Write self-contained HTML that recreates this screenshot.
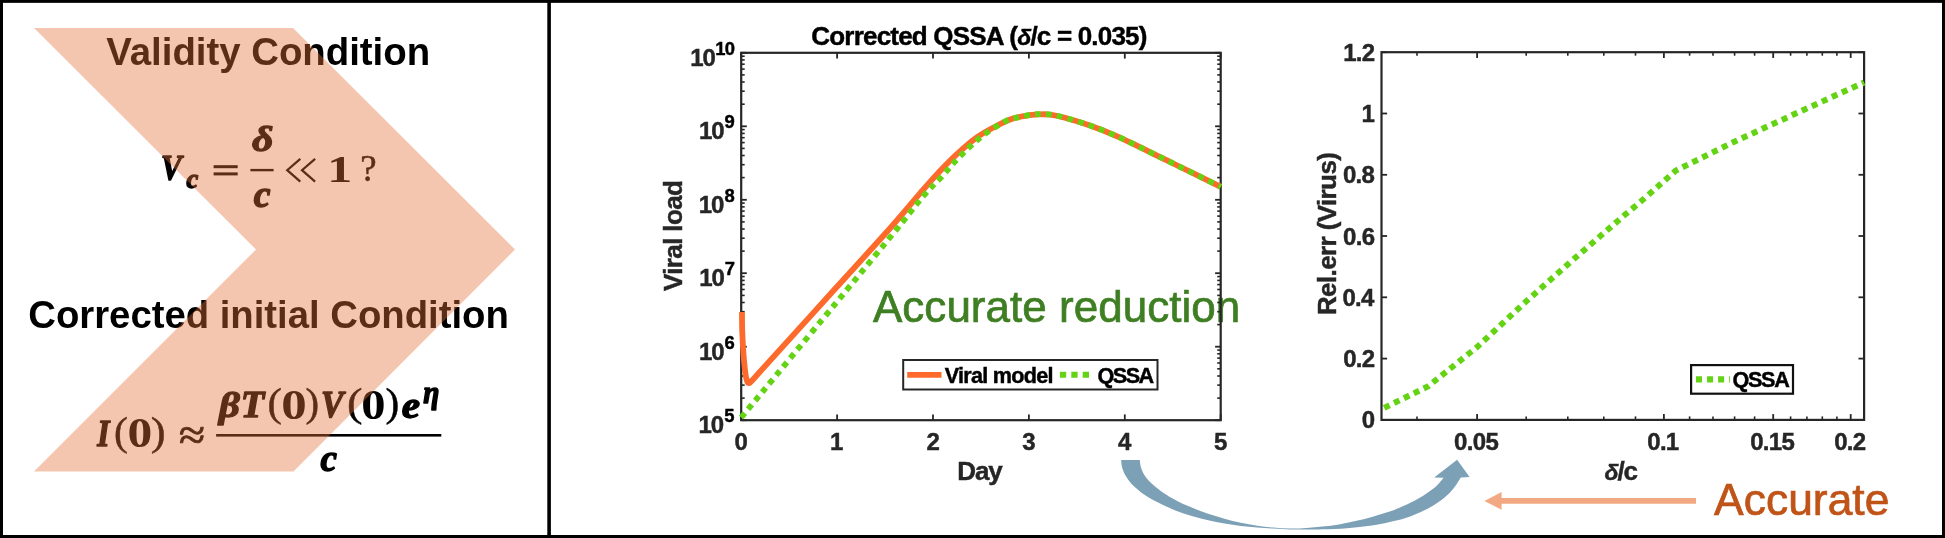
<!DOCTYPE html>
<html><head><meta charset="utf-8"><title>fig</title>
<style>
html,body{margin:0;padding:0;background:#fff;}
body{width:1945px;height:538px;overflow:hidden;}
svg{display:block;will-change:transform;}
text{font-family:"Liberation Sans",sans-serif;}
.b{font-weight:bold;}
.bi{font-weight:bold;font-style:italic;}
.m{font-family:"Liberation Serif",serif;font-weight:bold;font-style:italic;}
.mu{font-family:"Liberation Serif",serif;font-weight:bold;}
.mr{font-family:"Liberation Serif",serif;font-weight:normal;}
</style></head><body>
<svg width="1945" height="538" viewBox="0 0 1945 538">
<rect x="0" y="0" width="1945" height="538" fill="#fff"/>
<g id="leftpanel">
<text id="t1" class="b" x="106.32" y="64.60" font-size="38.4" letter-spacing="-0.024" fill="#000">Validity Condition</text>
<text id="t2" class="b" x="28.27" y="328.20" font-size="38.3" letter-spacing="-0.009" fill="#000">Corrected initial Condition</text>
<g id="f1">
<text class="m" transform="translate(160.94,180.36) scale(0.3096,0.3567)" font-size="100" fill="#000" stroke="#000" stroke-width="4.20" stroke-linejoin="round">V</text>
<text class="m" transform="translate(186.60,188.43) scale(0.2651,0.2729)" font-size="100" fill="#000" stroke="#000" stroke-width="5.20" stroke-linejoin="round">c</text>
<rect x="213.6" y="165.2" width="24.1" height="3"/><rect x="213.6" y="172.4" width="24.1" height="3"/>
<text class="m" transform="translate(251.97,151.14) scale(0.4172,0.3606)" font-size="100" fill="#000" stroke="#000" stroke-width="3.60" stroke-linejoin="round">δ</text>
<rect x="250.4" y="168.9" width="23.2" height="2.4"/>
<text class="m" transform="translate(253.83,206.81) scale(0.3783,0.3854)" font-size="100" fill="#000" stroke="#000" stroke-width="3.67" stroke-linejoin="round">c</text>
<path d="M300.3,158.8 L287.2,170.2 L300.3,181.6 M315.1,158.8 L302,170.2 L315.1,181.6" fill="none" stroke="#000" stroke-width="2.2"/>
<text class="mu" transform="translate(327.30,181.60) scale(0.5000,0.3758)" font-size="100" fill="#000">1</text>
<text class="mr" transform="translate(360.30,181.09) scale(0.3690,0.3719)" font-size="100" fill="#000" stroke="#000" stroke-width="1.35" stroke-linejoin="round">?</text>
</g>
<g id="f2">
<text class="m" transform="translate(97.22,446.20) scale(0.3153,0.3893)" font-size="100" fill="#000" stroke="#000" stroke-width="3.97" stroke-linejoin="round">I</text>
<text class="mr" transform="translate(114.08,444.72) scale(0.4157,0.3923)" font-size="100" fill="#000" stroke="#000" stroke-width="1.24" stroke-linejoin="round">(</text>
<text class="mu" transform="translate(127.62,447.47) scale(0.4952,0.4281)" font-size="100" fill="#000">0</text>
<text class="mr" transform="translate(150.81,444.82) scale(0.4462,0.3967)" font-size="100" fill="#000" stroke="#000" stroke-width="1.19" stroke-linejoin="round">)</text>
<text class="mr" transform="translate(178.88,448.85) scale(0.4750,0.4243)" font-size="100" fill="#000" stroke="#000" stroke-width="2.22" stroke-linejoin="round">≈</text>
<text class="m" transform="translate(218.92,417.11) scale(0.4075,0.3576)" font-size="100" fill="#000" stroke="#000" stroke-width="3.66" stroke-linejoin="round">β</text>
<text class="m" transform="translate(240.82,417.40) scale(0.3842,0.3756)" font-size="100" fill="#000" stroke="#000" stroke-width="3.69" stroke-linejoin="round">T</text>
<text class="mr" transform="translate(267.61,415.92) scale(0.4314,0.3923)" font-size="100" fill="#000" stroke="#000" stroke-width="1.21" stroke-linejoin="round">(</text>
<text class="mu" transform="translate(281.16,418.57) scale(0.5095,0.4267)" font-size="100" fill="#000">0</text>
<text class="mr" transform="translate(305.53,416.02) scale(0.4077,0.3967)" font-size="100" fill="#000" stroke="#000" stroke-width="1.24" stroke-linejoin="round">)</text>
<text class="m" transform="translate(320.98,417.44) scale(0.3363,0.3761)" font-size="100" fill="#000" stroke="#000" stroke-width="3.93" stroke-linejoin="round">V</text>
<text class="mr" transform="translate(347.05,415.92) scale(0.4667,0.3923)" font-size="100" fill="#000" stroke="#000" stroke-width="1.16" stroke-linejoin="round">(</text>
<text class="mu" transform="translate(361.26,418.57) scale(0.4857,0.4267)" font-size="100" fill="#000">0</text>
<text class="mr" transform="translate(385.42,416.02) scale(0.4115,0.3967)" font-size="100" fill="#000" stroke="#000" stroke-width="1.24" stroke-linejoin="round">)</text>
<text class="m" transform="translate(401.87,417.63) scale(0.4127,0.3708)" font-size="100" fill="#000" stroke="#000" stroke-width="3.57" stroke-linejoin="round">e</text>
<text class="m" transform="translate(423.31,403.44) scale(0.2928,0.3051)" font-size="100" fill="#000" stroke="#000" stroke-width="4.68" stroke-linejoin="round">η</text>
<rect x="216.1" y="434" width="225.2" height="2.6"/>
<text class="m" transform="translate(320.54,470.92) scale(0.3711,0.3771)" font-size="100" fill="#000" stroke="#000" stroke-width="3.74" stroke-linejoin="round">c</text>
</g>
<polygon id="chev" points="34,28 293,28 515,249.5 293.5,471.6 34,471.6 256,249.5" fill="#e67038" fill-opacity="0.4"/>
</g>
<text id="accred" stroke="#3f7f23" stroke-width="0.7" x="872.98" y="321.50" font-size="44" letter-spacing="0.020" fill="#3f7f23">Accurate reduction</text>
<g id="plot1">
<line x1="741.2" y1="420.2" x2="741.2" y2="414.4" stroke="#262626" stroke-width="1.8"/>
<line x1="741.2" y1="52.8" x2="741.2" y2="58.6" stroke="#262626" stroke-width="1.8"/>
<text stroke="#262626" stroke-width="0.45" class="b" x="734.54" y="450.00" font-size="24" letter-spacing="0.000" fill="#262626">0</text>
<line x1="837.1" y1="420.2" x2="837.1" y2="414.4" stroke="#262626" stroke-width="1.8"/>
<line x1="837.1" y1="52.8" x2="837.1" y2="58.6" stroke="#262626" stroke-width="1.8"/>
<text stroke="#262626" stroke-width="0.45" class="b" x="829.96" y="450.00" font-size="24" letter-spacing="0.000" fill="#262626">1</text>
<line x1="933.0" y1="420.2" x2="933.0" y2="414.4" stroke="#262626" stroke-width="1.8"/>
<line x1="933.0" y1="52.8" x2="933.0" y2="58.6" stroke="#262626" stroke-width="1.8"/>
<text stroke="#262626" stroke-width="0.45" class="b" x="926.40" y="450.00" font-size="24" letter-spacing="0.000" fill="#262626">2</text>
<line x1="1028.9" y1="420.2" x2="1028.9" y2="414.4" stroke="#262626" stroke-width="1.8"/>
<line x1="1028.9" y1="52.8" x2="1028.9" y2="58.6" stroke="#262626" stroke-width="1.8"/>
<text stroke="#262626" stroke-width="0.45" class="b" x="1022.36" y="450.00" font-size="24" letter-spacing="0.000" fill="#262626">3</text>
<line x1="1124.8" y1="420.2" x2="1124.8" y2="414.4" stroke="#262626" stroke-width="1.8"/>
<line x1="1124.8" y1="52.8" x2="1124.8" y2="58.6" stroke="#262626" stroke-width="1.8"/>
<text stroke="#262626" stroke-width="0.45" class="b" x="1118.02" y="450.00" font-size="24" letter-spacing="0.000" fill="#262626">4</text>
<line x1="1220.7" y1="420.2" x2="1220.7" y2="414.4" stroke="#262626" stroke-width="1.8"/>
<line x1="1220.7" y1="52.8" x2="1220.7" y2="58.6" stroke="#262626" stroke-width="1.8"/>
<text stroke="#262626" stroke-width="0.45" class="b" x="1213.98" y="450.00" font-size="24" letter-spacing="0.000" fill="#262626">5</text>
<line x1="741.2" y1="420.2" x2="746.8" y2="420.2" stroke="#262626" stroke-width="1.8"/>
<line x1="1220.7" y1="420.2" x2="1215.1" y2="420.2" stroke="#262626" stroke-width="1.8"/>
<line x1="741.2" y1="398.1" x2="744.7" y2="398.1" stroke="#262626" stroke-width="1.6"/>
<line x1="1220.7" y1="398.1" x2="1217.2" y2="398.1" stroke="#262626" stroke-width="1.6"/>
<line x1="741.2" y1="385.1" x2="744.7" y2="385.1" stroke="#262626" stroke-width="1.6"/>
<line x1="1220.7" y1="385.1" x2="1217.2" y2="385.1" stroke="#262626" stroke-width="1.6"/>
<line x1="741.2" y1="376.0" x2="744.7" y2="376.0" stroke="#262626" stroke-width="1.6"/>
<line x1="1220.7" y1="376.0" x2="1217.2" y2="376.0" stroke="#262626" stroke-width="1.6"/>
<line x1="741.2" y1="368.8" x2="744.7" y2="368.8" stroke="#262626" stroke-width="1.6"/>
<line x1="1220.7" y1="368.8" x2="1217.2" y2="368.8" stroke="#262626" stroke-width="1.6"/>
<line x1="741.2" y1="363.0" x2="744.7" y2="363.0" stroke="#262626" stroke-width="1.6"/>
<line x1="1220.7" y1="363.0" x2="1217.2" y2="363.0" stroke="#262626" stroke-width="1.6"/>
<line x1="741.2" y1="358.1" x2="744.7" y2="358.1" stroke="#262626" stroke-width="1.6"/>
<line x1="1220.7" y1="358.1" x2="1217.2" y2="358.1" stroke="#262626" stroke-width="1.6"/>
<line x1="741.2" y1="353.8" x2="744.7" y2="353.8" stroke="#262626" stroke-width="1.6"/>
<line x1="1220.7" y1="353.8" x2="1217.2" y2="353.8" stroke="#262626" stroke-width="1.6"/>
<line x1="741.2" y1="350.1" x2="744.7" y2="350.1" stroke="#262626" stroke-width="1.6"/>
<line x1="1220.7" y1="350.1" x2="1217.2" y2="350.1" stroke="#262626" stroke-width="1.6"/>
<text stroke="#000" stroke-width="0.45" class="b" x="724.35" y="422.30" font-size="18.4" letter-spacing="0.000" fill="#000">5</text>
<text stroke="#262626" stroke-width="0.45" class="b" x="698.61" y="433.00" font-size="24" letter-spacing="-1.085" fill="#262626">10</text>
<line x1="741.2" y1="346.7" x2="746.8" y2="346.7" stroke="#262626" stroke-width="1.8"/>
<line x1="1220.7" y1="346.7" x2="1215.1" y2="346.7" stroke="#262626" stroke-width="1.8"/>
<line x1="741.2" y1="324.6" x2="744.7" y2="324.6" stroke="#262626" stroke-width="1.6"/>
<line x1="1220.7" y1="324.6" x2="1217.2" y2="324.6" stroke="#262626" stroke-width="1.6"/>
<line x1="741.2" y1="311.7" x2="744.7" y2="311.7" stroke="#262626" stroke-width="1.6"/>
<line x1="1220.7" y1="311.7" x2="1217.2" y2="311.7" stroke="#262626" stroke-width="1.6"/>
<line x1="741.2" y1="302.5" x2="744.7" y2="302.5" stroke="#262626" stroke-width="1.6"/>
<line x1="1220.7" y1="302.5" x2="1217.2" y2="302.5" stroke="#262626" stroke-width="1.6"/>
<line x1="741.2" y1="295.4" x2="744.7" y2="295.4" stroke="#262626" stroke-width="1.6"/>
<line x1="1220.7" y1="295.4" x2="1217.2" y2="295.4" stroke="#262626" stroke-width="1.6"/>
<line x1="741.2" y1="289.5" x2="744.7" y2="289.5" stroke="#262626" stroke-width="1.6"/>
<line x1="1220.7" y1="289.5" x2="1217.2" y2="289.5" stroke="#262626" stroke-width="1.6"/>
<line x1="741.2" y1="284.6" x2="744.7" y2="284.6" stroke="#262626" stroke-width="1.6"/>
<line x1="1220.7" y1="284.6" x2="1217.2" y2="284.6" stroke="#262626" stroke-width="1.6"/>
<line x1="741.2" y1="280.4" x2="744.7" y2="280.4" stroke="#262626" stroke-width="1.6"/>
<line x1="1220.7" y1="280.4" x2="1217.2" y2="280.4" stroke="#262626" stroke-width="1.6"/>
<line x1="741.2" y1="276.6" x2="744.7" y2="276.6" stroke="#262626" stroke-width="1.6"/>
<line x1="1220.7" y1="276.6" x2="1217.2" y2="276.6" stroke="#262626" stroke-width="1.6"/>
<text stroke="#000" stroke-width="0.45" class="b" x="724.53" y="348.82" font-size="18.4" letter-spacing="0.000" fill="#000">6</text>
<text stroke="#262626" stroke-width="0.45" class="b" x="698.88" y="359.52" font-size="24" letter-spacing="-1.085" fill="#262626">10</text>
<line x1="741.2" y1="273.2" x2="746.8" y2="273.2" stroke="#262626" stroke-width="1.8"/>
<line x1="1220.7" y1="273.2" x2="1215.1" y2="273.2" stroke="#262626" stroke-width="1.8"/>
<line x1="741.2" y1="251.1" x2="744.7" y2="251.1" stroke="#262626" stroke-width="1.6"/>
<line x1="1220.7" y1="251.1" x2="1217.2" y2="251.1" stroke="#262626" stroke-width="1.6"/>
<line x1="741.2" y1="238.2" x2="744.7" y2="238.2" stroke="#262626" stroke-width="1.6"/>
<line x1="1220.7" y1="238.2" x2="1217.2" y2="238.2" stroke="#262626" stroke-width="1.6"/>
<line x1="741.2" y1="229.0" x2="744.7" y2="229.0" stroke="#262626" stroke-width="1.6"/>
<line x1="1220.7" y1="229.0" x2="1217.2" y2="229.0" stroke="#262626" stroke-width="1.6"/>
<line x1="741.2" y1="221.9" x2="744.7" y2="221.9" stroke="#262626" stroke-width="1.6"/>
<line x1="1220.7" y1="221.9" x2="1217.2" y2="221.9" stroke="#262626" stroke-width="1.6"/>
<line x1="741.2" y1="216.1" x2="744.7" y2="216.1" stroke="#262626" stroke-width="1.6"/>
<line x1="1220.7" y1="216.1" x2="1217.2" y2="216.1" stroke="#262626" stroke-width="1.6"/>
<line x1="741.2" y1="211.1" x2="744.7" y2="211.1" stroke="#262626" stroke-width="1.6"/>
<line x1="1220.7" y1="211.1" x2="1217.2" y2="211.1" stroke="#262626" stroke-width="1.6"/>
<line x1="741.2" y1="206.9" x2="744.7" y2="206.9" stroke="#262626" stroke-width="1.6"/>
<line x1="1220.7" y1="206.9" x2="1217.2" y2="206.9" stroke="#262626" stroke-width="1.6"/>
<line x1="741.2" y1="203.1" x2="744.7" y2="203.1" stroke="#262626" stroke-width="1.6"/>
<line x1="1220.7" y1="203.1" x2="1217.2" y2="203.1" stroke="#262626" stroke-width="1.6"/>
<text stroke="#000" stroke-width="0.45" class="b" x="724.72" y="275.34" font-size="18.4" letter-spacing="0.000" fill="#000">7</text>
<text stroke="#262626" stroke-width="0.45" class="b" x="699.25" y="286.04" font-size="24" letter-spacing="-1.085" fill="#262626">10</text>
<line x1="741.2" y1="199.8" x2="746.8" y2="199.8" stroke="#262626" stroke-width="1.8"/>
<line x1="1220.7" y1="199.8" x2="1215.1" y2="199.8" stroke="#262626" stroke-width="1.8"/>
<line x1="741.2" y1="177.6" x2="744.7" y2="177.6" stroke="#262626" stroke-width="1.6"/>
<line x1="1220.7" y1="177.6" x2="1217.2" y2="177.6" stroke="#262626" stroke-width="1.6"/>
<line x1="741.2" y1="164.7" x2="744.7" y2="164.7" stroke="#262626" stroke-width="1.6"/>
<line x1="1220.7" y1="164.7" x2="1217.2" y2="164.7" stroke="#262626" stroke-width="1.6"/>
<line x1="741.2" y1="155.5" x2="744.7" y2="155.5" stroke="#262626" stroke-width="1.6"/>
<line x1="1220.7" y1="155.5" x2="1217.2" y2="155.5" stroke="#262626" stroke-width="1.6"/>
<line x1="741.2" y1="148.4" x2="744.7" y2="148.4" stroke="#262626" stroke-width="1.6"/>
<line x1="1220.7" y1="148.4" x2="1217.2" y2="148.4" stroke="#262626" stroke-width="1.6"/>
<line x1="741.2" y1="142.6" x2="744.7" y2="142.6" stroke="#262626" stroke-width="1.6"/>
<line x1="1220.7" y1="142.6" x2="1217.2" y2="142.6" stroke="#262626" stroke-width="1.6"/>
<line x1="741.2" y1="137.7" x2="744.7" y2="137.7" stroke="#262626" stroke-width="1.6"/>
<line x1="1220.7" y1="137.7" x2="1217.2" y2="137.7" stroke="#262626" stroke-width="1.6"/>
<line x1="741.2" y1="133.4" x2="744.7" y2="133.4" stroke="#262626" stroke-width="1.6"/>
<line x1="1220.7" y1="133.4" x2="1217.2" y2="133.4" stroke="#262626" stroke-width="1.6"/>
<line x1="741.2" y1="129.6" x2="744.7" y2="129.6" stroke="#262626" stroke-width="1.6"/>
<line x1="1220.7" y1="129.6" x2="1217.2" y2="129.6" stroke="#262626" stroke-width="1.6"/>
<text stroke="#000" stroke-width="0.45" class="b" x="724.44" y="201.86" font-size="18.4" letter-spacing="0.000" fill="#000">8</text>
<text stroke="#262626" stroke-width="0.45" class="b" x="698.70" y="212.56" font-size="24" letter-spacing="-1.085" fill="#262626">10</text>
<line x1="741.2" y1="126.3" x2="746.8" y2="126.3" stroke="#262626" stroke-width="1.8"/>
<line x1="1220.7" y1="126.3" x2="1215.1" y2="126.3" stroke="#262626" stroke-width="1.8"/>
<line x1="741.2" y1="104.2" x2="744.7" y2="104.2" stroke="#262626" stroke-width="1.6"/>
<line x1="1220.7" y1="104.2" x2="1217.2" y2="104.2" stroke="#262626" stroke-width="1.6"/>
<line x1="741.2" y1="91.2" x2="744.7" y2="91.2" stroke="#262626" stroke-width="1.6"/>
<line x1="1220.7" y1="91.2" x2="1217.2" y2="91.2" stroke="#262626" stroke-width="1.6"/>
<line x1="741.2" y1="82.0" x2="744.7" y2="82.0" stroke="#262626" stroke-width="1.6"/>
<line x1="1220.7" y1="82.0" x2="1217.2" y2="82.0" stroke="#262626" stroke-width="1.6"/>
<line x1="741.2" y1="74.9" x2="744.7" y2="74.9" stroke="#262626" stroke-width="1.6"/>
<line x1="1220.7" y1="74.9" x2="1217.2" y2="74.9" stroke="#262626" stroke-width="1.6"/>
<line x1="741.2" y1="69.1" x2="744.7" y2="69.1" stroke="#262626" stroke-width="1.6"/>
<line x1="1220.7" y1="69.1" x2="1217.2" y2="69.1" stroke="#262626" stroke-width="1.6"/>
<line x1="741.2" y1="64.2" x2="744.7" y2="64.2" stroke="#262626" stroke-width="1.6"/>
<line x1="1220.7" y1="64.2" x2="1217.2" y2="64.2" stroke="#262626" stroke-width="1.6"/>
<line x1="741.2" y1="59.9" x2="744.7" y2="59.9" stroke="#262626" stroke-width="1.6"/>
<line x1="1220.7" y1="59.9" x2="1217.2" y2="59.9" stroke="#262626" stroke-width="1.6"/>
<line x1="741.2" y1="56.2" x2="744.7" y2="56.2" stroke="#262626" stroke-width="1.6"/>
<line x1="1220.7" y1="56.2" x2="1217.2" y2="56.2" stroke="#262626" stroke-width="1.6"/>
<text stroke="#000" stroke-width="0.45" class="b" x="724.53" y="128.38" font-size="18.4" letter-spacing="0.000" fill="#000">9</text>
<text stroke="#262626" stroke-width="0.45" class="b" x="698.88" y="139.08" font-size="24" letter-spacing="-1.085" fill="#262626">10</text>
<line x1="741.2" y1="52.8" x2="746.8" y2="52.8" stroke="#262626" stroke-width="1.8"/>
<line x1="1220.7" y1="52.8" x2="1215.1" y2="52.8" stroke="#262626" stroke-width="1.8"/>
<text stroke="#000" stroke-width="0.45" class="b" x="715.24" y="54.90" font-size="18.4" letter-spacing="-0.832" fill="#000">10</text>
<text stroke="#262626" stroke-width="0.45" class="b" x="690.15" y="65.60" font-size="24" letter-spacing="-1.085" fill="#262626">10</text>
<rect x="741.2" y="52.8" width="479.5" height="367.4" fill="none" stroke="#262626" stroke-width="2.2"/>
<path d="M742.0,312.0 C742.0,315.0 742.0,323.7 742.2,330.0 C742.4,336.3 742.8,343.9 743.2,350.0 C743.6,356.1 744.1,362.0 744.6,366.5 C745.1,371.0 745.5,374.4 746.0,377.0 C746.5,379.6 747.0,381.2 747.5,382.2 C748.0,383.2 748.5,383.2 749.0,383.2 C749.5,383.2 749.8,382.9 750.5,382.2 C751.2,381.5 752.0,380.6 753.5,379.0 C755.0,377.4 755.1,377.2 759.5,372.3 C763.9,367.4 767.3,363.6 780.0,349.6 C792.7,335.6 818.0,307.7 835.6,288.3 C853.2,268.9 871.7,248.8 885.8,233.0 C899.9,217.2 911.2,203.5 920.0,193.4 C928.8,183.3 932.4,179.1 938.6,172.5 C944.8,165.9 951.0,159.6 957.2,153.9 C963.4,148.2 969.6,142.6 975.8,138.1 C982.0,133.6 988.2,130.2 994.4,127.0 C1000.6,123.8 1006.8,120.6 1013.0,118.6 C1019.2,116.6 1026.9,115.6 1031.5,114.9 C1036.1,114.2 1037.7,114.3 1040.8,114.3 C1043.9,114.2 1046.2,114.1 1050.1,114.6 C1054.0,115.1 1057.3,115.7 1064.0,117.5 C1070.7,119.3 1081.3,122.5 1090.0,125.5 C1098.7,128.6 1107.3,132.0 1116.0,135.8 C1124.7,139.6 1133.3,144.0 1142.0,148.2 C1150.7,152.4 1159.3,156.7 1168.0,160.9 C1176.7,165.2 1185.2,169.4 1194.0,173.7 C1202.8,178.0 1216.2,184.6 1220.7,186.8" fill="none" stroke="#fe6a2b" stroke-width="5.8" stroke-linejoin="round"/>
<path d="M741.2,417.5 C758.8,396.2 821.4,320.7 846.7,290.0 C872.0,259.3 880.4,249.2 893.2,233.5 C906.0,217.8 915.8,204.9 923.7,195.7 C931.6,186.5 935.1,183.8 940.4,178.1 C945.7,172.4 950.2,166.7 955.3,161.3 C960.4,155.9 966.0,150.2 971.1,145.5 C976.2,140.8 980.3,137.2 986.0,133.2 C991.7,129.1 1001.0,123.7 1005.5,121.2 C1010.0,118.7 1008.7,119.5 1013.0,118.4 C1017.3,117.3 1026.9,115.4 1031.5,114.7 C1036.1,114.0 1037.7,114.1 1040.8,114.1 C1043.9,114.1 1046.2,113.9 1050.1,114.5 C1054.0,115.1 1057.3,115.7 1064.0,117.5 C1070.7,119.3 1081.3,122.5 1090.0,125.5 C1098.7,128.6 1107.3,132.0 1116.0,135.8 C1124.7,139.6 1133.3,144.0 1142.0,148.2 C1150.7,152.4 1159.3,156.7 1168.0,160.9 C1176.7,165.2 1185.2,169.4 1194.0,173.7 C1202.8,178.0 1216.2,184.6 1220.7,186.8" fill="none" stroke="#63d313" stroke-width="5.8" stroke-dasharray="5.8 5.2" stroke-linejoin="round"/>
<text id="title1" class="b" x="811.3" y="45.2" font-size="26" letter-spacing="-0.8" fill="#000" stroke="#000" stroke-width="0.45">Corrected QSSA (<tspan font-style="italic" font-size="23">δ</tspan>/c = 0.035)</text>
<text id="xl1" stroke="#262626" stroke-width="0.45" class="b" x="957.36" y="479.70" font-size="26" letter-spacing="-1.120" fill="#262626">Day</text>
<text id="yl1" stroke="#262626" stroke-width="0.45" class="b" transform="translate(682.00,291.06) rotate(-90)" font-size="26" letter-spacing="-0.618" fill="#262626">Viral load</text>
<rect x="903.2" y="360" width="254.3" height="29.5" fill="#fff" stroke="#262626" stroke-width="2"/>
<line x1="907.2" y1="374.9" x2="941.5" y2="374.9" stroke="#fe6a2b" stroke-width="5.9"/>
<text id="lg1a" stroke="#000" stroke-width="0.45" class="b" x="944.78" y="383.00" font-size="21.6" letter-spacing="-0.736" fill="#000">Viral model</text>
<line x1="1059.9" y1="374.8" x2="1094" y2="374.8" stroke="#63d313" stroke-width="6" stroke-dasharray="6.3 5.1"/>
<text id="lg1b" stroke="#000" stroke-width="0.45" class="b" x="1097.54" y="383.00" font-size="21.6" letter-spacing="-1.541" fill="#000">QSSA</text>
</g>
<g id="plot2">
<line x1="1417.0" y1="419.9" x2="1417.0" y2="416.4" stroke="#262626" stroke-width="1.6"/>
<line x1="1417.0" y1="52.2" x2="1417.0" y2="55.7" stroke="#262626" stroke-width="1.6"/>
<line x1="1477.1" y1="419.9" x2="1477.1" y2="414.1" stroke="#262626" stroke-width="1.8"/>
<line x1="1477.1" y1="52.2" x2="1477.1" y2="58.0" stroke="#262626" stroke-width="1.8"/>
<line x1="1526.2" y1="419.9" x2="1526.2" y2="416.4" stroke="#262626" stroke-width="1.6"/>
<line x1="1526.2" y1="52.2" x2="1526.2" y2="55.7" stroke="#262626" stroke-width="1.6"/>
<line x1="1567.8" y1="419.9" x2="1567.8" y2="416.4" stroke="#262626" stroke-width="1.6"/>
<line x1="1567.8" y1="52.2" x2="1567.8" y2="55.7" stroke="#262626" stroke-width="1.6"/>
<line x1="1603.8" y1="419.9" x2="1603.8" y2="416.4" stroke="#262626" stroke-width="1.6"/>
<line x1="1603.8" y1="52.2" x2="1603.8" y2="55.7" stroke="#262626" stroke-width="1.6"/>
<line x1="1635.5" y1="419.9" x2="1635.5" y2="416.4" stroke="#262626" stroke-width="1.6"/>
<line x1="1635.5" y1="52.2" x2="1635.5" y2="55.7" stroke="#262626" stroke-width="1.6"/>
<line x1="1663.9" y1="419.9" x2="1663.9" y2="414.1" stroke="#262626" stroke-width="1.8"/>
<line x1="1663.9" y1="52.2" x2="1663.9" y2="58.0" stroke="#262626" stroke-width="1.8"/>
<line x1="1689.6" y1="419.9" x2="1689.6" y2="416.4" stroke="#262626" stroke-width="1.6"/>
<line x1="1689.6" y1="52.2" x2="1689.6" y2="55.7" stroke="#262626" stroke-width="1.6"/>
<line x1="1713.0" y1="419.9" x2="1713.0" y2="416.4" stroke="#262626" stroke-width="1.6"/>
<line x1="1713.0" y1="52.2" x2="1713.0" y2="55.7" stroke="#262626" stroke-width="1.6"/>
<line x1="1734.6" y1="419.9" x2="1734.6" y2="416.4" stroke="#262626" stroke-width="1.6"/>
<line x1="1734.6" y1="52.2" x2="1734.6" y2="55.7" stroke="#262626" stroke-width="1.6"/>
<line x1="1754.6" y1="419.9" x2="1754.6" y2="416.4" stroke="#262626" stroke-width="1.6"/>
<line x1="1754.6" y1="52.2" x2="1754.6" y2="55.7" stroke="#262626" stroke-width="1.6"/>
<line x1="1773.2" y1="419.9" x2="1773.2" y2="414.1" stroke="#262626" stroke-width="1.8"/>
<line x1="1773.2" y1="52.2" x2="1773.2" y2="58.0" stroke="#262626" stroke-width="1.8"/>
<line x1="1790.6" y1="419.9" x2="1790.6" y2="416.4" stroke="#262626" stroke-width="1.6"/>
<line x1="1790.6" y1="52.2" x2="1790.6" y2="55.7" stroke="#262626" stroke-width="1.6"/>
<line x1="1806.9" y1="419.9" x2="1806.9" y2="416.4" stroke="#262626" stroke-width="1.6"/>
<line x1="1806.9" y1="52.2" x2="1806.9" y2="55.7" stroke="#262626" stroke-width="1.6"/>
<line x1="1822.3" y1="419.9" x2="1822.3" y2="416.4" stroke="#262626" stroke-width="1.6"/>
<line x1="1822.3" y1="52.2" x2="1822.3" y2="55.7" stroke="#262626" stroke-width="1.6"/>
<line x1="1836.9" y1="419.9" x2="1836.9" y2="416.4" stroke="#262626" stroke-width="1.6"/>
<line x1="1836.9" y1="52.2" x2="1836.9" y2="55.7" stroke="#262626" stroke-width="1.6"/>
<line x1="1850.7" y1="419.9" x2="1850.7" y2="414.1" stroke="#262626" stroke-width="1.8"/>
<line x1="1850.7" y1="52.2" x2="1850.7" y2="58.0" stroke="#262626" stroke-width="1.8"/>
<text stroke="#262626" stroke-width="0.45" class="b" x="1454.11" y="450.00" font-size="24" letter-spacing="-0.677" fill="#262626">0.05</text>
<text stroke="#262626" stroke-width="0.45" class="b" x="1647.26" y="450.00" font-size="24" letter-spacing="-0.715" fill="#262626">0.1</text>
<text stroke="#262626" stroke-width="0.45" class="b" x="1750.16" y="450.00" font-size="24" letter-spacing="-0.677" fill="#262626">0.15</text>
<text stroke="#262626" stroke-width="0.45" class="b" x="1834.22" y="450.00" font-size="24" letter-spacing="-0.707" fill="#262626">0.2</text>
<line x1="1381.5" y1="419.9" x2="1387.1" y2="419.9" stroke="#262626" stroke-width="1.8"/>
<line x1="1864.1" y1="419.9" x2="1858.5" y2="419.9" stroke="#262626" stroke-width="1.8"/>
<text stroke="#262626" stroke-width="0.45" class="b" x="1361.84" y="428.40" font-size="24" letter-spacing="0.000" fill="#262626">0</text>
<line x1="1381.5" y1="358.6" x2="1387.1" y2="358.6" stroke="#262626" stroke-width="1.8"/>
<line x1="1864.1" y1="358.6" x2="1858.5" y2="358.6" stroke="#262626" stroke-width="1.8"/>
<text stroke="#262626" stroke-width="0.45" class="b" x="1343.21" y="367.12" font-size="24" letter-spacing="-0.707" fill="#262626">0.2</text>
<line x1="1381.5" y1="297.3" x2="1387.1" y2="297.3" stroke="#262626" stroke-width="1.8"/>
<line x1="1864.1" y1="297.3" x2="1858.5" y2="297.3" stroke="#262626" stroke-width="1.8"/>
<text stroke="#262626" stroke-width="0.45" class="b" x="1342.41" y="305.83" font-size="24" letter-spacing="-0.726" fill="#262626">0.4</text>
<line x1="1381.5" y1="236.0" x2="1387.1" y2="236.0" stroke="#262626" stroke-width="1.8"/>
<line x1="1864.1" y1="236.0" x2="1858.5" y2="236.0" stroke="#262626" stroke-width="1.8"/>
<text stroke="#262626" stroke-width="0.45" class="b" x="1343.10" y="244.55" font-size="24" letter-spacing="-0.710" fill="#262626">0.6</text>
<line x1="1381.5" y1="174.8" x2="1387.1" y2="174.8" stroke="#262626" stroke-width="1.8"/>
<line x1="1864.1" y1="174.8" x2="1858.5" y2="174.8" stroke="#262626" stroke-width="1.8"/>
<text stroke="#262626" stroke-width="0.45" class="b" x="1342.99" y="183.27" font-size="24" letter-spacing="-0.713" fill="#262626">0.8</text>
<line x1="1381.5" y1="113.5" x2="1387.1" y2="113.5" stroke="#262626" stroke-width="1.8"/>
<line x1="1864.1" y1="113.5" x2="1858.5" y2="113.5" stroke="#262626" stroke-width="1.8"/>
<text stroke="#262626" stroke-width="0.45" class="b" x="1361.48" y="121.98" font-size="24" letter-spacing="0.000" fill="#262626">1</text>
<line x1="1381.5" y1="52.2" x2="1387.1" y2="52.2" stroke="#262626" stroke-width="1.8"/>
<line x1="1864.1" y1="52.2" x2="1858.5" y2="52.2" stroke="#262626" stroke-width="1.8"/>
<text stroke="#262626" stroke-width="0.45" class="b" x="1343.19" y="60.70" font-size="24" letter-spacing="-0.694" fill="#262626">1.2</text>
<rect x="1381.5" y="52.2" width="482.6" height="367.7" fill="none" stroke="#262626" stroke-width="2.2"/>
<polyline points="1381.5,409.2 1428.0,386.4 1477.0,347.1 1526.0,301.5 1575.0,258.0 1624.0,215.6 1644.6,198.3 1675.8,170.6 1733.7,142.0 1800.6,111.3 1864.1,82.4" fill="none" stroke="#63d313" stroke-width="6" stroke-dasharray="6 5" stroke-dashoffset="8" stroke-linejoin="round"/>
<text id="xl2" class="b" x="1604.6" y="480" font-size="26" letter-spacing="-1.2" fill="#262626" stroke="#262626" stroke-width="0.45"><tspan font-style="italic" font-size="23">δ</tspan>/c</text>
<text id="yl2" stroke="#262626" stroke-width="0.45" class="b" transform="translate(1335.60,315.09) rotate(-90)" font-size="26" letter-spacing="-0.606" fill="#262626">Rel.err (Virus)</text>
<rect x="1691.1" y="365.1" width="101.9" height="28.6" fill="#fff" stroke="#111" stroke-width="2.2"/>
<line x1="1696" y1="379.4" x2="1730" y2="379.4" stroke="#63d313" stroke-width="6.4" stroke-dasharray="6 5.05"/>
<text id="lg2" stroke="#000" stroke-width="0.45" class="b" x="1732.54" y="387.30" font-size="21.6" letter-spacing="-1.308" fill="#000">QSSA</text>
</g>
<text id="acc" stroke="#c05317" stroke-width="0.7" x="1714.08" y="515.20" font-size="44.4" letter-spacing="0.023" fill="#c05317">Accurate</text>
<path id="parrow" d="M1484.4,501 L1501.6,492.1 L1501.6,498.1 L1696,498.1 L1696,503.8 L1501.6,503.8 L1501.6,509.8 Z" fill="#f2a983"/>
<path id="barrow" d="M1121.1,460.1 C1121.3,461.4 1121.4,465.2 1122.3,468.0 C1123.2,470.8 1124.4,473.9 1126.4,477.0 C1128.4,480.1 1131.2,483.7 1134.5,486.8 C1137.8,489.9 1141.9,493.1 1146.0,495.8 C1150.1,498.5 1154.2,500.7 1159.1,503.1 C1164.0,505.6 1170.0,508.4 1175.4,510.5 C1180.9,512.6 1186.3,514.3 1191.8,515.9 C1197.2,517.5 1202.6,519.0 1208.1,520.3 C1213.5,521.6 1219.0,522.6 1224.5,523.6 C1230.0,524.6 1235.3,525.4 1240.8,526.0 C1246.2,526.6 1251.8,527.1 1257.2,527.5 C1262.7,527.9 1268.0,528.3 1273.5,528.6 C1279.0,528.9 1284.6,529.2 1290.0,529.4 C1295.4,529.6 1300.5,529.6 1306.0,529.6 C1311.5,529.6 1315.8,529.5 1322.7,529.3 C1329.6,529.1 1339.0,528.8 1347.2,528.2 C1355.4,527.6 1363.6,526.9 1371.8,525.6 C1380.0,524.3 1389.5,522.3 1396.3,520.6 C1403.1,518.9 1407.1,517.5 1412.6,515.4 C1418.0,513.3 1423.8,511.0 1429.0,508.1 C1434.2,505.2 1439.6,501.5 1443.7,498.2 C1447.8,494.9 1450.6,491.8 1453.5,488.4 C1456.4,484.9 1459.7,479.3 1460.9,477.5 L1469.6,477.0 L1457.1,459.8 L1434.2,477.5 L1443.7,477.8 C1442.6,479.0 1439.7,482.9 1437.2,485.2 C1434.8,487.5 1432.3,489.4 1429.0,491.7 C1425.7,494.0 1421.7,496.8 1417.6,499.1 C1413.5,501.4 1409.4,503.4 1404.5,505.6 C1399.6,507.8 1393.5,510.2 1388.1,512.1 C1382.6,514.0 1377.2,515.5 1371.8,517.0 C1366.3,518.5 1360.9,519.9 1355.4,521.1 C1349.9,522.3 1344.5,523.5 1339.0,524.4 C1333.5,525.3 1328.1,525.9 1322.7,526.5 C1317.3,527.1 1311.9,527.6 1306.4,528.0 C1301.0,528.4 1295.5,528.7 1290.0,528.6 C1284.5,528.5 1279.0,528.1 1273.5,527.6 C1268.0,527.1 1262.7,526.5 1257.2,525.7 C1251.8,524.9 1246.2,524.0 1240.8,522.8 C1235.3,521.6 1230.0,520.2 1224.5,518.7 C1219.0,517.2 1213.5,515.6 1208.1,513.8 C1202.6,511.9 1197.2,509.9 1191.8,507.6 C1186.3,505.3 1180.0,502.3 1175.4,499.9 C1170.8,497.5 1167.8,495.9 1164.0,493.3 C1160.2,490.7 1155.6,487.2 1152.5,484.3 C1149.4,481.4 1147.1,478.9 1145.2,476.2 C1143.3,473.5 1142.0,470.7 1141.1,468.0 C1140.2,465.3 1140.0,461.4 1139.8,460.1 Z" fill="#7ca1b6"/>
<rect x="1.5" y="1.35" width="1942" height="535.15" fill="none" stroke="#000" stroke-width="3"/>
<rect x="547.3" y="0" width="3.6" height="538" fill="#000"/>
</svg>
</body></html>
